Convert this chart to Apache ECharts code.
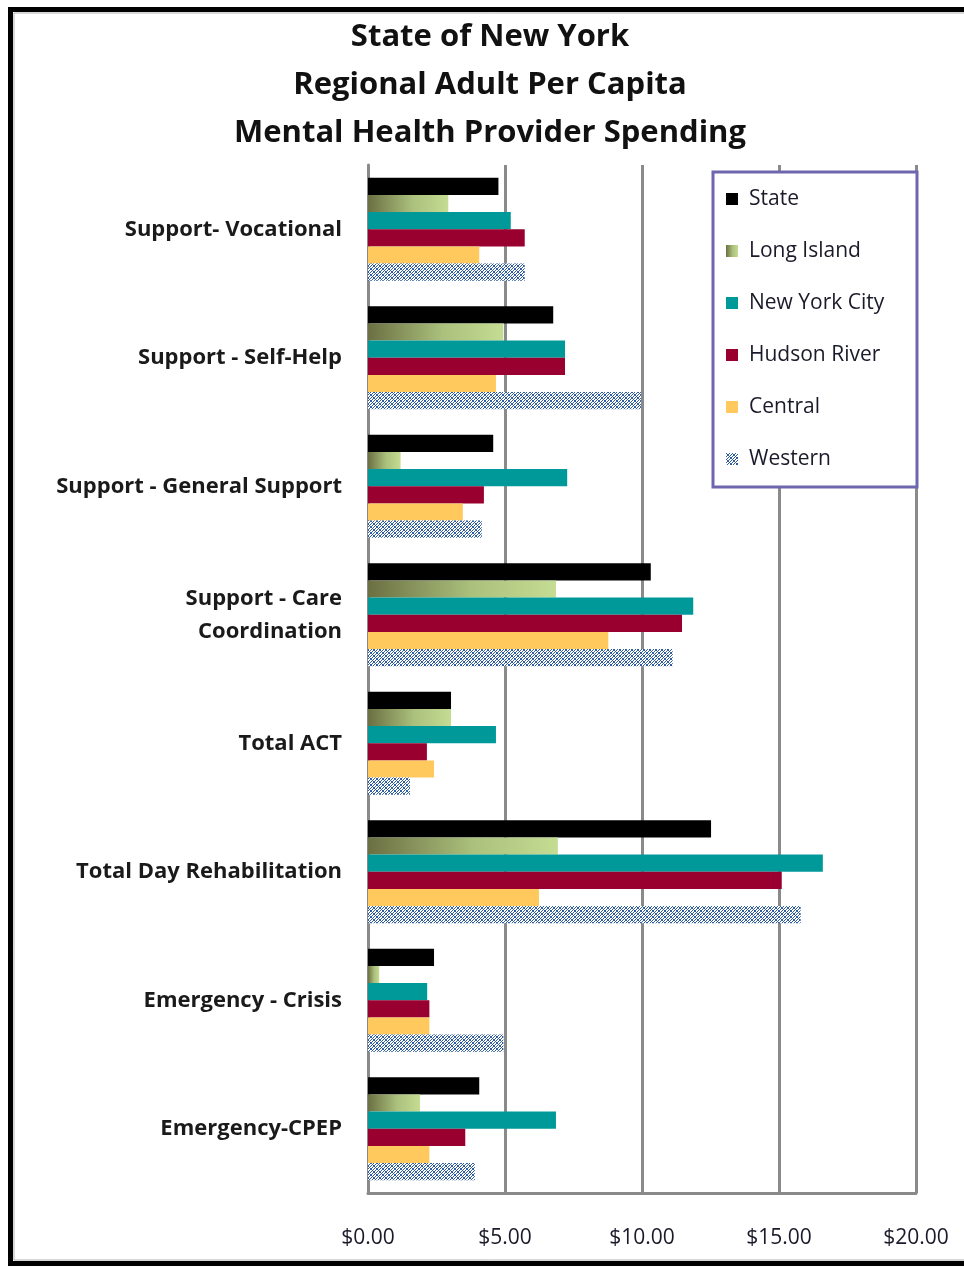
<!DOCTYPE html>
<html>
<head>
<meta charset="utf-8">
<script src="https://cdn.jsdelivr.net/npm/echarts@6/dist/echarts.min.js"></script>
<style>
  html, body { margin: 0; padding: 0; background: #ffffff; }
  #chart { width: 964px; height: 1268px; }
</style>
</head>
<body>
<div id="chart"></div>
<script>
// Chart text
const titleLines = ['State of New York', 'Regional Adult Per Capita', 'Mental Health Provider Spending'];

// Service categories (top to bottom)
const categories = [
  'Support- Vocational',
  'Support - Self-Help',
  'Support - General Support',
  'Support - Care\nCoordination',
  'Total ACT',
  'Total Day Rehabilitation',
  'Emergency - Crisis',
  'Emergency-CPEP'
];

// Per capita spending by region, in dollars
const seriesNames = ['State', 'Long Island', 'New York City', 'Hudson River', 'Central', 'Western'];
const stateVals   = [4.76, 6.76, 4.57, 10.32, 3.03, 12.52, 2.41, 4.06];
const longIsland  = [2.93, 4.94, 1.19, 6.86, 3.03, 6.93, 0.41, 1.90];
const newYorkCity = [5.21, 7.19, 7.27, 11.87, 4.67, 16.60, 2.16, 6.86];
const hudsonRiver = [5.72, 7.19, 4.23, 11.46, 2.15, 15.10, 2.24, 3.55];
const central     = [4.06, 4.67, 3.46, 8.77, 2.41, 6.24, 2.24, 2.24];
const western     = [5.72, 9.96, 4.15, 11.12, 1.53, 15.79, 4.94, 3.90];

// Axis ticks
const xTicks = [0, 5, 10, 15, 20];

const FONT = '"Open Sans", Lato, sans-serif';
const GRID_GRAY = '#8a8a8a';

// Blue hatch tile used for the Western bars
function makeHatch() {
  const c = document.createElement('canvas');
  c.width = 6; c.height = 6;
  const ctx = c.getContext('2d');
  ctx.fillStyle = '#ffffff';
  ctx.fillRect(0, 0, 6, 6);
  ctx.fillStyle = '#2f5d9f';
  for (let y = 0; y < 6; y++) {
    for (let x = 0; x < 6; x++) {
      if ((x + y) % 3 === 0 || (x - y + 6) % 6 === 0) ctx.fillRect(x, y, 1, 1);
    }
  }
  return c;
}

const liGradient = new echarts.graphic.LinearGradient(0, 0, 1, 0, [
  { offset: 0, color: '#6b6f42' },
  { offset: 0.55, color: '#aac07c' },
  { offset: 1, color: '#c5dc93' }
]);

const seriesColors = [
  '#000000',
  liGradient,
  '#00999a',
  '#990030',
  '#ffc95e',
  { image: makeHatch(), repeat: 'repeat' }
];
const seriesData = [stateVals, longIsland, newYorkCity, hudsonRiver, central, western];

const chart = echarts.init(document.getElementById('chart'), null, { renderer: 'canvas' });

const option = {
  backgroundColor: '#ffffff',
  animation: false,
  graphic: [
    // outer frame
    { type: 'rect', shape: { x: 10.5, y: 9.5, width: 1000, height: 1254 },
      style: { fill: null, stroke: '#000000', lineWidth: 5 }, silent: true, z: 0 },
    { type: 'rect', shape: { x: 14, y: 13, width: 1000, height: 1247 },
      style: { fill: null, stroke: '#b0b0b0', lineWidth: 1 }, silent: true, z: 0 },
    // legend frame
    { type: 'rect', shape: { x: 713, y: 172, width: 204, height: 315 },
      style: { fill: '#ffffff', stroke: '#6e66ae', lineWidth: 3 }, silent: true, z: 5 }
  ].concat(titleLines.map((t, i) => ({
    type: 'text', x: 490, y: 37 + i * 48, z: 10,
    style: { text: t, font: 'bold 31px ' + FONT, fill: '#111111',
             textAlign: 'center', textVerticalAlign: 'middle' }
  }))),
  legend: {
    data: seriesNames,
    orient: 'vertical',
    left: 721,
    top: 183,
    itemWidth: 12,
    itemHeight: 12,
    itemGap: 30,
    icon: 'rect',
    z: 20,
    textStyle: { fontFamily: FONT, fontSize: 21, color: '#1a1a2a', lineHeight: 22, padding: [0, 0, 0, 6] }
  },
  grid: { left: 368, right: 48, top: 165, bottom: 75, containLabel: false },
  xAxis: {
    type: 'value',
    min: 0, max: 20, interval: 5,
    axisLine: { show: true, lineStyle: { color: GRID_GRAY, width: 3 } },
    axisTick: { show: false },
    splitLine: { show: true, lineStyle: { color: GRID_GRAY, width: 3 } },
    axisLabel: {
      margin: 35,
      fontFamily: FONT, fontSize: 21, color: '#1a1a2a',
      formatter: v => xTicks.includes(v) ? '$' + v.toFixed(2) : ''
    }
  },
  yAxis: {
    type: 'category',
    data: categories,
    inverse: true,
    axisLine: { show: true, lineStyle: { color: GRID_GRAY, width: 3 } },
    axisTick: { show: false },
    axisLabel: {
      margin: 26,
      fontFamily: FONT, fontSize: 22, fontWeight: 'bold', color: '#1a1a1a',
      lineHeight: 33, align: 'right'
    }
  },
  series: seriesNames.map((name, i) => ({
    name,
    type: 'bar',
    data: seriesData[i],
    barGap: '0%',
    barCategoryGap: '20%',
    itemStyle: { color: seriesColors[i] },
    emphasis: { disabled: true }
  }))
};

chart.setOption(option);
</script>
</body>
</html>
